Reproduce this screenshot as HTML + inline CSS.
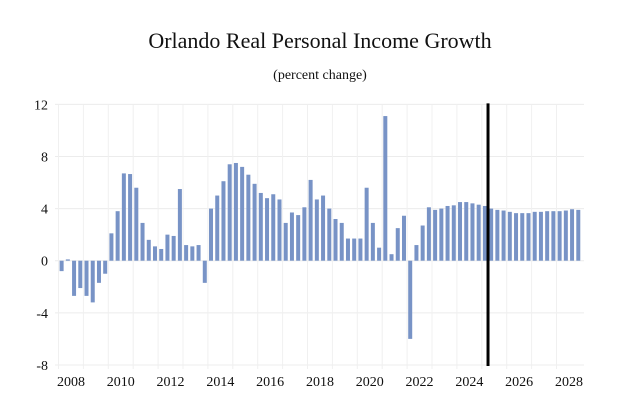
<!DOCTYPE html>
<html><head><meta charset="utf-8"><style>
body{margin:0;background:#fff;}
svg{display:block;font-family:"Liberation Serif",serif;}
</style></head><body>
<svg id="chart" width="627" height="418">
<text x="320" y="48" text-anchor="middle" font-size="22" fill="#111">Orlando Real Personal Income Growth</text>
<text x="320" y="79" text-anchor="middle" font-size="14" fill="#111">(percent change)</text>
<g id="grid"></g><g id="bars"></g><g id="axes"></g>
</svg>
<script>
const yTicks=[12,8,4,0,-4,-8];
const yearLabels=[2008,2010,2012,2014,2016,2018,2020,2022,2024,2026,2028];
const startYear=2008;
const values=[-0.8,0.1,-2.7,-2.1,-2.7,-3.2,-1.7,-1.0,
2.1,3.8,6.7,6.65,5.6,2.9,1.6,1.1,
0.9,2.0,1.9,5.5,1.2,1.1,1.2,-1.7,
4.0,5.0,6.1,7.4,7.5,7.2,6.6,5.9,
5.2,4.8,5.1,4.7,2.9,3.7,3.5,4.1,
6.2,4.7,5.0,4.0,3.2,2.9,1.7,1.7,
1.7,5.6,2.9,1.0,11.1,0.5,2.5,3.45,
-6.0,1.2,2.7,4.1,3.9,4.0,4.2,4.25,
4.5,4.5,4.4,4.3,4.2,4.0,3.9,3.85,
3.75,3.65,3.65,3.65,3.75,3.75,3.8,3.8,
3.8,3.85,3.95,3.9];
const forecastStart=2025.25;
const ns="http://www.w3.org/2000/svg";
const x0=58.5,yearW=24.9,yZero=260.7,unit=13.03;
const X=yr=>x0+(yr-startYear)*yearW;
const Y=v=>yZero-v*unit;
const left=55,right=584;
function mk(tag,attrs,parent,txt){const e=document.createElementNS(ns,tag);for(const k in attrs)e.setAttribute(k,attrs[k]);if(txt!==undefined)e.textContent=txt;parent.appendChild(e);return e;}
const grid=document.getElementById('grid'),bars=document.getElementById('bars'),axes=document.getElementById('axes');
yTicks.forEach(t=>{
 const l=mk('line',{x1:left,x2:right,y1:Y(t),y2:Y(t),stroke:'#ececec','stroke-width':1},grid);
 
 
 const tx=mk('text',{x:48,y:Y(t)+5,'text-anchor':'end','font-size':14,fill:'#111'},axes,String(t));
 
 
});
for(let yr=startYear;yr<=2028;yr++){
 const l=mk('line',{x1:X(yr),x2:X(yr),y1:Y(12),y2:Y(-8)+4,stroke:'#f0f0f0','stroke-width':1},grid);
 
 
}
yearLabels.forEach(yr=>{
 const tx=mk('text',{x:X(yr+0.5),y:386,'text-anchor':'middle','font-size':14,fill:'#111'},axes,String(yr));
 
 
});
values.forEach((v,i)=>{
 const cx=X(startYear+(i+0.5)/4);
 const r=mk('rect',{x:cx-2,width:4,y:Math.min(Y(v),Y(0)),height:Math.abs(Y(v)-Y(0)),fill:'#7893c6'},bars);
 
 
});
const fl=mk('line',{x1:X(forecastStart),x2:X(forecastStart),y1:Y(12)-1,y2:Y(-8)+1,stroke:'#000','stroke-width':3},axes);


</script>
</body></html>
